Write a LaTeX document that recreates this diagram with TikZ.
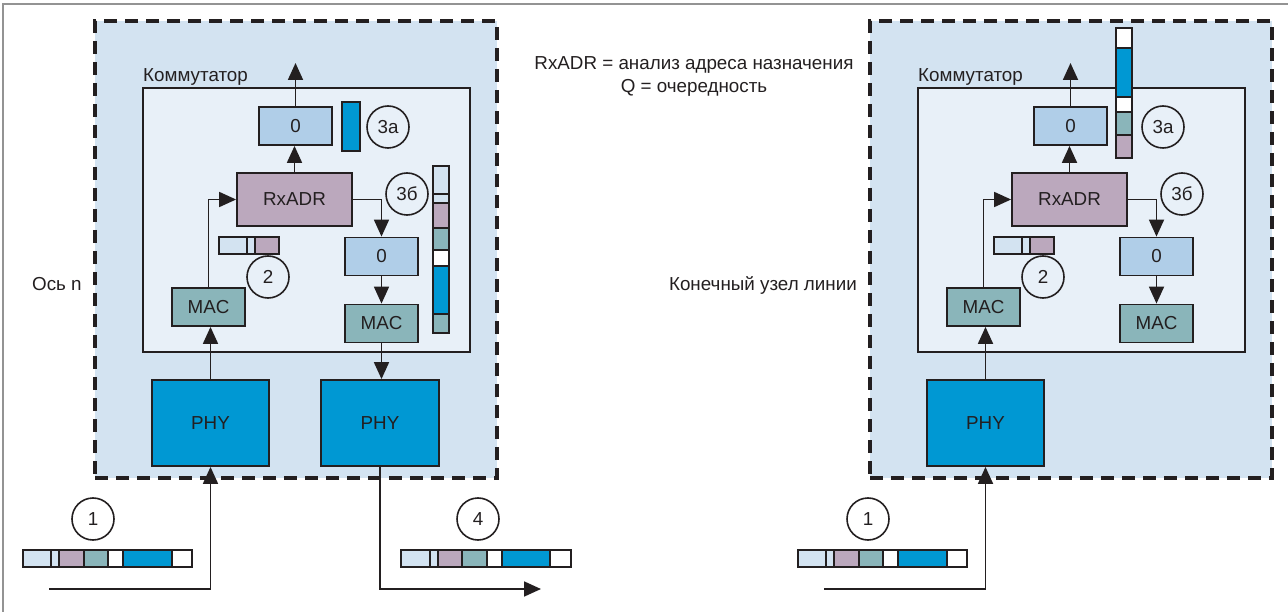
\documentclass[tikz,border=0pt]{standalone}
\usepackage{fontspec}
\setmainfont{Liberation Sans}
\usepackage{xcolor}
\usetikzlibrary{positioning,arrows.meta}

\definecolor{ink}{HTML}{231F20}
\definecolor{nodebg}{HTML}{D3E3F1}
\definecolor{swbg}{HTML}{E8F0F8}
\definecolor{pale}{HTML}{D3E3F1}
\definecolor{qblue}{HTML}{B0CEE8}
\definecolor{mauve}{HTML}{BBA8BD}
\definecolor{macteal}{HTML}{8AB5BA}
\definecolor{phyblue}{HTML}{0098D3}

\begin{document}
\begin{tikzpicture}[x=1pt, y=-1pt, font=\fontsize{18.8}{23}\selectfont, text=ink,
  frame/.style={draw=ink, fill=nodebg, line width=3.2pt, dash pattern=on 13pt off 8pt,
                minimum width=402pt, minimum height=457pt, inner sep=0pt},
  switch/.style={draw=ink, fill=swbg, line width=1.8pt, minimum width=327pt,
                 minimum height=264pt, inner sep=0pt},
  block/.style={draw=ink, line width=1.8pt, minimum width=73pt, minimum height=38pt, inner sep=0pt},
  num/.style={draw=ink, circle, line width=1.6pt, minimum size=42pt, inner sep=0pt},
  flow/.style={draw=ink, line width=1.8pt, -{Triangle[length=17pt,width=15pt]}},
  seg/.style={draw=ink, line width=1.6pt}]

\useasboundingbox (0,0) rectangle (1288,612);
\draw[gray!85, line width=1.8pt] (3,612) -- (3,4) -- (1288,4);

% both end points share the same switch layout
\foreach \off/\p in {0/L, 775/R}{
\begin{scope}[xshift=\off pt, name prefix=\p-]
\node[frame]  (node) at (296,249.5) {};
\node[switch] (sw)   at (306.5,220) {};
\node[anchor=base west, inner sep=0pt] (swname) at (143,82) {Коммутатор};

\node[block, fill=qblue]   (q1)   at (295.5,126) {0};
\node[block, fill=mauve, minimum width=115pt, minimum height=53pt] (rx) at (294.5,199.5) {RxADR};
\node[block, fill=qblue]   (q2)   at (381.5,256.5) {0};
\node[block, fill=macteal] (mac1) at (208.5,307) {MAC};
\node[block, fill=macteal] (mac2) at (381.5,323.5) {MAC};
\node[block, fill=phyblue, minimum width=117pt, minimum height=86pt] (phy1) at (210.5,423) {PHY};

\node[num] (n1)  at (93,519)  {1};
\node[num] (n2)  at (268,277) {2};
\node[num] (n3a) at (388,127) {3а};
\node[num] (n3b) at (407,194) {3б};

\foreach \a/\b/\c in {0/28/pale, 28/36/pale, 36/61/mauve, 61/85/macteal, 85/100/white, 100/149/phyblue, 149/169/white}
  \draw[seg, fill=\c] ({23+\a},550) rectangle ({23+\b},567);
\foreach \a/\b/\c in {0/28/pale, 28/36/pale, 36/60/mauve}
  \draw[seg, fill=\c] ({219+\a},237) rectangle ({219+\b},254);

\coordinate (up) at (295.5,63);
\coordinate (in) at (49,589);
\draw[flow] (q1.north) -- (up);
\draw[flow] (rx.north) -- (rx.north |- q1.south);
\draw[flow] (mac1.north) |- (rx.west);
\draw[flow] (rx.east) -| (q2.north);
\draw[flow] (q2.south) -- (mac2.north);
\draw[flow] (phy1.north) -- (phy1.north |- mac1.south);
\draw[flow] (in) -| (phy1.south);
\end{scope}}

% outgoing port of the first switch
\node[block, fill=phyblue, minimum width=118pt, minimum height=86pt] (L-phy2) at (380,423) {PHY};
\node[num] (L-n4) at (478,519) {4};
\coordinate (L-out) at (541,589);
\draw[flow] (L-mac2.south) -- (L-mac2.south |- L-phy2.north);
\draw[flow] (L-phy2.south) |- (L-out);
\foreach \a/\b/\c in {0/29/pale, 29/37/pale, 37/61/mauve, 61/86/macteal, 86/101/white, 101/149/phyblue, 149/170/white}
  \draw[seg, fill=\c] ({401+\a},550) rectangle ({401+\b},567);

% queues
\draw[seg, fill=phyblue] (342,102) rectangle (360,151);
\foreach \a/\b/\c in {166/194/pale, 194/203/pale, 203/228/mauve, 228/250/macteal, 250/266/white, 266/314/phyblue, 314/333/macteal}
  \draw[seg, fill=\c] (433,\a) rectangle (449,\b);
\foreach \a/\b/\c in {28/48/white, 48/97/phyblue, 97/112/white, 112/135/macteal, 135/158/mauve}
  \draw[seg, fill=\c] (1116,\a) rectangle (1132,\b);

\node[anchor=west, inner sep=0pt] (axis) at (32,284) {Ось n};
\node[anchor=east, inner sep=0pt] (endnode) at (857,285) {Конечный узел линии};
\node[align=center, inner sep=0pt] (legend) at (694,76.5) {RxADR = анализ адреса назначения\\Q = очередность};
\end{tikzpicture}
\end{document}
